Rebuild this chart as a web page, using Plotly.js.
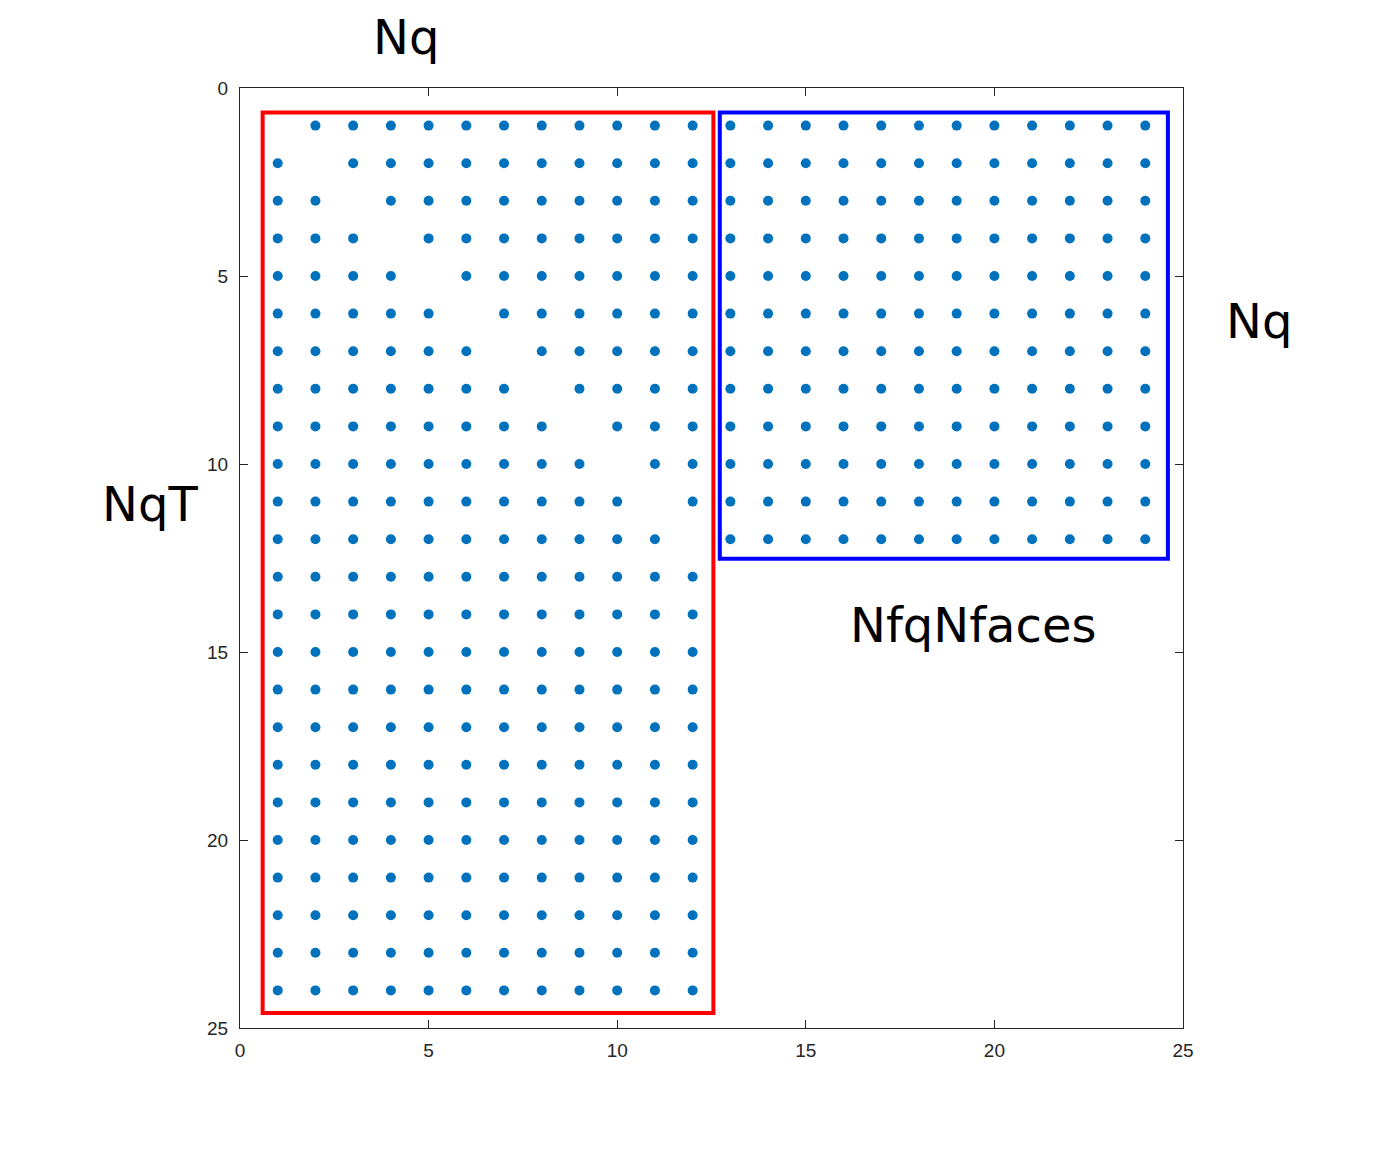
<!DOCTYPE html>
<html>
<head>
<meta charset="utf-8">
<script src="https://cdn.plot.ly/plotly-3.0.1.min.js"></script>
<style>html,body{margin:0;padding:0;background:#fff;}#chart{width:1376px;height:1156px;}</style>
</head>
<body>
<div id="chart"></div>
<script>
// Sparsity pattern of the 24x24 matrix (row i, column j): '1' = nonzero
const matrixRows = [
  "011111111111111111111111",
  "101111111111111111111111",
  "110111111111111111111111",
  "111011111111111111111111",
  "111101111111111111111111",
  "111110111111111111111111",
  "111111011111111111111111",
  "111111101111111111111111",
  "111111110111111111111111",
  "111111111011111111111111",
  "111111111101111111111111",
  "111111111110111111111111",
  "111111111111000000000000",
  "111111111111000000000000",
  "111111111111000000000000",
  "111111111111000000000000",
  "111111111111000000000000",
  "111111111111000000000000",
  "111111111111000000000000",
  "111111111111000000000000",
  "111111111111000000000000",
  "111111111111000000000000",
  "111111111111000000000000",
  "111111111111000000000000"
];
const tickValues = [0, 5, 10, 15, 20, 25];
const labelTop = "Nq";
const labelRight = "Nq";
const labelLeft = "NqT";
const labelBlock = "NfqNfaces";

const colIdx = [], rowIdx = [];
matrixRows.forEach((row, i) => {
  for (let j = 0; j < row.length; j++) {
    if (row[j] === "1") { colIdx.push(j + 1); rowIdx.push(i + 1); }
  }
});

const axisCommon = {
  range: [0, 25], tickvals: tickValues, ticktext: tickValues.map(String),
  ticks: "inside", ticklen: 8, tickwidth: 1, tickcolor: "#262626",
  showline: true, linecolor: "#262626", linewidth: 1, mirror: "ticks",
  showgrid: false, zeroline: false,
  tickfont: {family: "Liberation Sans, Arial, sans-serif", size: 19, color: "#262626"}
};

const trace = {
  x: colIdx, y: rowIdx, type: "scatter", mode: "markers",
  marker: {color: "#0072BD", size: 10}, hoverinfo: "x+y", showlegend: false
};

const annFont = {family: "DejaVu Sans, sans-serif", size: 48, color: "#000000"};
function paperX(px) { return (px - 240) / 943; }
function paperY(py) { return (1028 - py) / 940; }

const layout = {
  width: 1376, height: 1156,
  margin: {l: 240, r: 193, t: 88, b: 128},
  paper_bgcolor: "#ffffff", plot_bgcolor: "#ffffff",
  xaxis: Object.assign({}, axisCommon, {range: [0, 25], ticklabelstandoff: 5}),
  yaxis: Object.assign({}, axisCommon, {range: [25, 0], ticklabelstandoff: 7}),
  shapes: [
    {type: "rect", xref: "x", yref: "y", x0: 0.6, x1: 12.55, y0: 0.65, y1: 24.6,
     line: {color: "#FF0000", width: 4}},
    {type: "rect", xref: "x", yref: "y", x0: 12.72, x1: 24.6, y0: 0.65, y1: 12.52,
     line: {color: "#0000FF", width: 4}}
  ],
  annotations: [
    {text: labelTop, xref: "paper", yref: "paper", x: paperX(406), y: paperY(37), showarrow: false, font: annFont, xanchor: "center", yanchor: "middle"},
    {text: labelRight, xref: "paper", yref: "paper", x: paperX(1259), y: paperY(321), showarrow: false, font: annFont, xanchor: "center", yanchor: "middle"},
    {text: labelLeft, xref: "paper", yref: "paper", x: paperX(150), y: paperY(504), showarrow: false, font: annFont, xanchor: "center", yanchor: "middle"},
    {text: labelBlock, xref: "paper", yref: "paper", x: paperX(973), y: paperY(625), showarrow: false, font: annFont, xanchor: "center", yanchor: "middle"}
  ]
};

Plotly.newPlot("chart", [trace], layout, {displayModeBar: false, staticPlot: true});
</script>
</body>
</html>
